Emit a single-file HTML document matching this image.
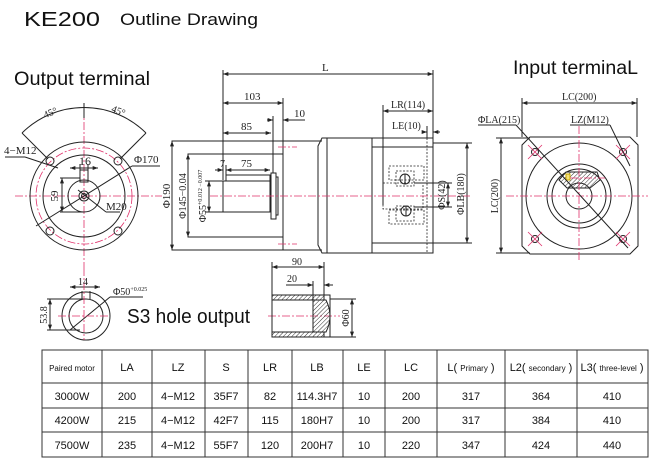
<!DOCTYPE html>
<html><head><meta charset="utf-8"><style>
html,body{margin:0;padding:0;background:#fff;}
svg{display:block;}
.t{font-family:"Liberation Serif",serif;font-size:11px;fill:#222;}
.h{font-family:"Liberation Sans",sans-serif;fill:#111;}
.tb{font-family:"Liberation Sans",sans-serif;font-size:11px;fill:#111;}
</style></head><body>
<svg width="650" height="468" viewBox="0 0 650 468" xmlns="http://www.w3.org/2000/svg">
<defs>
<marker id="a" viewBox="0 0 8 6" refX="8" refY="3" markerWidth="6" markerHeight="4" orient="auto-start-reverse"><path d="M0,0L8,3L0,6z" fill="#222"/></marker>
<pattern id="hat" width="3" height="3" patternUnits="userSpaceOnUse" patternTransform="rotate(45)"><line x1="0" y1="0" x2="0" y2="3" stroke="#333" stroke-width="1"/></pattern>
</defs>
<text x="24" y="26" class="h" font-size="20" fill="#222" textLength="76" lengthAdjust="spacingAndGlyphs">KE200</text>
<text x="120" y="25" class="h" font-size="17" textLength="138" lengthAdjust="spacingAndGlyphs">Outline Drawing</text>
<text x="14" y="85" class="h" font-size="19" textLength="136" lengthAdjust="spacingAndGlyphs">Output terminal</text>
<text x="513" y="74" class="h" font-size="19" textLength="125" lengthAdjust="spacingAndGlyphs">Input terminaL</text>

<g fill="none" stroke="#222" stroke-width="1">
<g stroke="#e0306a" stroke-dasharray="8,2,2,2" stroke-width="0.8">
<line x1="15" y1="196" x2="162" y2="196"/>
<line x1="84" y1="108" x2="84" y2="268"/>
<circle cx="84" cy="196" r="48"/>
</g>
<circle cx="84" cy="196" r="54"/>
<circle cx="84" cy="196" r="41"/>
<circle cx="84" cy="196" r="16"/>
<circle cx="84" cy="196" r="5"/>
<circle cx="84" cy="196" r="2.5"/>
<g>
<circle cx="50" cy="161" r="4"/><circle cx="118" cy="161" r="4"/>
<circle cx="50" cy="231" r="4"/><circle cx="118" cy="231" r="4"/>
</g>
<path d="M22,133 A88,88 0 0 1 146,133"/>
<line x1="22" y1="133" x2="48" y2="159"/><line x1="146" y1="133" x2="120" y2="159"/>
<line x1="84" y1="103" x2="84" y2="118"/>
<rect x="80" y="170" width="8" height="12"/>
<line x1="70" y1="168" x2="98" y2="168" marker-start="url(#a)" marker-end="url(#a)"/>
<line x1="80" y1="164" x2="80" y2="172"/><line x1="88" y1="164" x2="88" y2="172"/>
<line x1="60" y1="178" x2="80" y2="178"/><line x1="60" y1="212" x2="84" y2="212"/>
<line x1="62" y1="178" x2="62" y2="212" marker-start="url(#a)" marker-end="url(#a)"/>
<line x1="5" y1="157" x2="25" y2="157"/><line x1="25" y1="157" x2="58" y2="168"/>
<line x1="36" y1="226" x2="132" y2="166"/><line x1="132" y1="166" x2="160" y2="166"/>
<line x1="78" y1="190" x2="106" y2="212"/><line x1="106" y1="212" x2="120" y2="212"/>

<rect x="172" y="141" width="111" height="109"/>
<rect x="188" y="154" width="95" height="83"/>
<rect x="223" y="181" width="47" height="31"/>
<rect x="226" y="175" width="44" height="6"/>
<rect x="271" y="173" width="5" height="46"/>
<rect x="276" y="177" width="2" height="38"/>
<path d="M283,141 H322 M283,250 H322"/>
<path d="M322,138 L327,138 L327,253 L322,253 L318,245 L318,146 Z"/>
<rect x="327" y="138" width="106" height="115"/>
<line x1="372" y1="138" x2="372" y2="253"/>
<line x1="372" y1="147" x2="433" y2="147"/><line x1="372" y1="243" x2="433" y2="243"/>
<g stroke-dasharray="2,1.5" stroke-width="0.8">
<line x1="427" y1="138" x2="427" y2="253"/>
<rect x="389" y="166" width="35" height="14"/><rect x="396" y="171" width="18" height="15"/>
<rect x="389" y="210" width="35" height="14"/><rect x="396" y="206" width="18" height="15"/>
<rect x="383" y="183" width="40" height="26"/>
</g>
<circle cx="405" cy="179" r="5"/><circle cx="406" cy="211" r="5"/>
<line x1="405" y1="174" x2="405" y2="184"/><line x1="406" y1="206" x2="406" y2="216"/>
<line x1="223" y1="70" x2="223" y2="180"/><line x1="433" y1="70" x2="433" y2="138"/>
<line x1="223" y1="74" x2="433" y2="74" marker-start="url(#a)" marker-end="url(#a)"/>
<line x1="283" y1="98" x2="283" y2="141"/>
<line x1="223" y1="103" x2="283" y2="103" marker-start="url(#a)" marker-end="url(#a)"/>
<line x1="273" y1="116" x2="273" y2="173"/>
<line x1="267" y1="120" x2="273" y2="120" marker-end="url(#a)"/><line x1="305" y1="120" x2="283" y2="120" marker-end="url(#a)"/>
<line x1="223" y1="133" x2="271" y2="133" marker-start="url(#a)" marker-end="url(#a)"/>
<line x1="215" y1="170" x2="223" y2="170" marker-end="url(#a)"/>
<line x1="226" y1="170" x2="270" y2="170" marker-start="url(#a)" marker-end="url(#a)"/>
<line x1="226" y1="165" x2="226" y2="175"/>
<line x1="172" y1="141" x2="172" y2="250" marker-start="url(#a)" marker-end="url(#a)"/>
<line x1="188" y1="154" x2="188" y2="237" marker-start="url(#a)" marker-end="url(#a)"/>
<line x1="205" y1="181" x2="223" y2="181"/><line x1="205" y1="212" x2="223" y2="212"/>
<line x1="209" y1="181" x2="209" y2="212" marker-start="url(#a)" marker-end="url(#a)"/>
<line x1="383" y1="105" x2="383" y2="205"/>
<line x1="383" y1="111" x2="433" y2="111" marker-start="url(#a)" marker-end="url(#a)"/>
<line x1="422" y1="132" x2="427" y2="132" marker-end="url(#a)"/><line x1="440" y1="132" x2="433" y2="132" marker-end="url(#a)"/>
<line x1="427" y1="126" x2="427" y2="138"/>
<line x1="433" y1="143" x2="472" y2="143"/><line x1="433" y1="243" x2="472" y2="243"/>
<line x1="467" y1="143" x2="467" y2="243" marker-start="url(#a)" marker-end="url(#a)"/>
<line x1="414" y1="183" x2="452" y2="183"/><line x1="414" y1="207" x2="452" y2="207"/>
<line x1="448" y1="183" x2="448" y2="207" marker-start="url(#a)" marker-end="url(#a)"/>
<g stroke="#e0306a" stroke-dasharray="8,2,2,2" stroke-width="0.8">
<line x1="210" y1="196" x2="472" y2="196"/>
<line x1="278" y1="147" x2="297" y2="147"/><line x1="278" y1="244" x2="297" y2="244"/>
</g>

<path d="M530,137 H630 L638,145 V246 L630,254 H530 L522,246 V145 Z"/>
<circle cx="579" cy="196" r="53"/><circle cx="579" cy="196" r="32"/>
<circle cx="579" cy="196" r="27"/><circle cx="579" cy="196" r="13"/>
<g><circle cx="535" cy="152" r="3.5"/><circle cx="623" cy="152" r="3.5"/>
<circle cx="535" cy="239" r="3.5"/><circle cx="623" cy="239" r="3.5"/></g>
<path d="M559,180 L566,172 L597,172 L600,180 L590,188 L567,188 Z" fill="url(#hat)"/>
<rect x="566" y="174" width="4" height="6" fill="#f5e27a" stroke="#c9a800"/>
<g stroke="#e0306a" stroke-dasharray="8,2,2,2" stroke-width="0.8">
<line x1="506" y1="196" x2="648" y2="196"/><line x1="579" y1="126" x2="579" y2="262"/>
<line x1="570" y1="178" x2="605" y2="178"/>
</g>
<g stroke="#e0306a" stroke-width="0.8">
<path d="M528,145 l14,14 M542,145 l-14,14 M616,145 l14,14 M630,145 l-14,14 M528,232 l14,14 M542,232 l-14,14 M616,232 l14,14 M630,232 l-14,14"/>
</g>
<line x1="478" y1="125" x2="516" y2="125"/><line x1="516" y1="125" x2="628" y2="248"/>
<line x1="570" y1="125" x2="610" y2="125"/><line x1="610" y1="125" x2="630" y2="166"/>
<line x1="522" y1="98" x2="522" y2="137"/><line x1="637" y1="98" x2="637" y2="137"/>
<line x1="522" y1="103" x2="637" y2="103" marker-start="url(#a)" marker-end="url(#a)"/>
<line x1="496" y1="138" x2="530" y2="138"/><line x1="496" y1="253" x2="530" y2="253"/>
<line x1="501" y1="138" x2="501" y2="253" marker-start="url(#a)" marker-end="url(#a)"/>

<circle cx="86" cy="316" r="24"/><circle cx="86" cy="316" r="17"/>
<path d="M82,299 V291 M90,299 V291"/>
<line x1="70" y1="287" x2="100" y2="287" marker-start="url(#a)" marker-end="url(#a)"/>
<line x1="47" y1="299" x2="86" y2="299"/><line x1="47" y1="330" x2="80" y2="330"/>
<line x1="50" y1="299" x2="50" y2="330" marker-start="url(#a)" marker-end="url(#a)"/>
<line x1="70" y1="330" x2="110" y2="297"/><line x1="110" y1="297" x2="143" y2="297"/>
<g stroke="#e0306a" stroke-dasharray="8,2,2,2" stroke-width="0.8">
<line x1="58" y1="316" x2="110" y2="316"/><line x1="84" y1="268" x2="84" y2="340"/>
<line x1="268" y1="316" x2="340" y2="316"/>
</g>
<rect x="272" y="295" width="58" height="42"/>
<rect x="272" y="295" width="52" height="5" fill="url(#hat)"/>
<rect x="272" y="332" width="52" height="5" fill="url(#hat)"/>
<path d="M313,300 H326 Q334,316 326,332 H313 Z" fill="url(#hat)"/>
<line x1="272" y1="262" x2="272" y2="295"/><line x1="324" y1="262" x2="324" y2="295"/>
<line x1="272" y1="267" x2="324" y2="267" marker-start="url(#a)" marker-end="url(#a)"/>
<line x1="313" y1="281" x2="313" y2="300"/>
<line x1="286" y1="285" x2="313" y2="285" marker-end="url(#a)"/>
<line x1="333" y1="285" x2="324" y2="285" marker-end="url(#a)"/>
<line x1="330" y1="299" x2="356" y2="299"/><line x1="330" y1="337" x2="356" y2="337"/>
<line x1="352" y1="299" x2="352" y2="337" marker-start="url(#a)" marker-end="url(#a)"/>
</g>

<g class="t">
<text x="43" y="116" transform="rotate(-22 50 112)" font-size="10">45°</text>
<text x="111" y="114" transform="rotate(22 118 112)" font-size="10">45°</text>
<text x="4" y="154">4−M12</text>
<text x="134" y="163">Φ170</text>
<text x="79" y="165" font-size="12">16</text>
<text x="60" y="196" transform="rotate(-90 60 196)" text-anchor="middle" dy="-2">59</text>
<text x="106" y="210">M20</text>
<text x="322" y="71">L</text>
<text x="244" y="100">103</text>
<text x="294" y="117">10</text>
<text x="241" y="130">85</text>
<text x="220" y="167" font-size="10">7</text>
<text x="241" y="167">75</text>
<text x="170" y="196" transform="rotate(-90 170 196)" text-anchor="middle">Φ190</text>
<text x="186" y="196" transform="rotate(-90 186 196)" text-anchor="middle" font-size="10">Φ145−0.04</text>
<text x="206" y="196" transform="rotate(-90 206 196)" text-anchor="middle" font-size="10">Φ55<tspan font-size="6" dy="-4">+0.012 −0.007</tspan></text>
<text x="391" y="108" font-size="10">LR(114)</text>
<text x="392" y="129" font-size="10">LE(10)</text>
<text x="445" y="195" transform="rotate(-90 445 195)" text-anchor="middle" font-size="10">ΦS(42)</text>
<text x="464" y="194" transform="rotate(-90 464 194)" text-anchor="middle" font-size="10">ΦLB(180)</text>
<text x="562" y="100" font-size="10">LC(200)</text>
<text x="478" y="123" font-size="10">ΦLA(215)</text>
<text x="571" y="123" font-size="10">LZ(M12)</text>
<text x="498" y="196" transform="rotate(-90 498 196)" text-anchor="middle" font-size="10">LC(200)</text>
<text x="78" y="285" font-size="10">14</text>
<text x="47" y="315" transform="rotate(-90 47 315)" text-anchor="middle" font-size="10">53.8</text>
<text x="113" y="295" font-size="10">Φ50<tspan font-size="6" dy="-4">+0.025</tspan></text>
<text x="292" y="265" font-size="10">90</text>
<text x="287" y="282" font-size="10">20</text>
<text x="349" y="318" transform="rotate(-90 349 318)" text-anchor="middle" font-size="10">Φ60</text>
</g>
<text x="127" y="323" class="h" font-size="20" textLength="123" lengthAdjust="spacingAndGlyphs">S3 hole output</text>

<g stroke="#333" stroke-width="1" fill="none">
<rect x="42" y="350" width="606" height="107"/>
<path d="M42,383H648M42,408H648M42,432H648"/>
<path d="M102,350V457M152,350V457M205,350V457M248,350V457M292,350V457M343,350V457M385,350V457M437,350V457M505,350V457M577,350V457"/>
</g>
<g class="tb" text-anchor="middle">
<text x="72" y="371" font-size="8">Paired motor</text>
<text x="127" y="371">LA</text><text x="178" y="371">LZ</text><text x="226" y="371">S</text>
<text x="270" y="371">LR</text><text x="317" y="371">LB</text><text x="364" y="371">LE</text>
<text x="411" y="371">LC</text>
<text x="471" y="371">L( <tspan font-size="8">Primary</tspan>  )</text>
<text x="541" y="371">L2( <tspan font-size="8">secondary</tspan> )</text>
<text x="612" y="371">L3( <tspan font-size="8">three-level</tspan> )</text>
<text x="72" y="400">3000W</text><text x="127" y="400">200</text><text x="178" y="400">4−M12</text><text x="226" y="400">35F7</text><text x="270" y="400">82</text><text x="317" y="400">114.3H7</text><text x="364" y="400">10</text><text x="411" y="400">200</text><text x="471" y="400">317</text><text x="541" y="400">364</text><text x="612" y="400">410</text>
<text x="72" y="424">4200W</text><text x="127" y="424">215</text><text x="178" y="424">4−M12</text><text x="226" y="424">42F7</text><text x="270" y="424">115</text><text x="317" y="424">180H7</text><text x="364" y="424">10</text><text x="411" y="424">200</text><text x="471" y="424">317</text><text x="541" y="424">384</text><text x="612" y="424">410</text>
<text x="72" y="449">7500W</text><text x="127" y="449">235</text><text x="178" y="449">4−M12</text><text x="226" y="449">55F7</text><text x="270" y="449">120</text><text x="317" y="449">200H7</text><text x="364" y="449">10</text><text x="411" y="449">220</text><text x="471" y="449">347</text><text x="541" y="449">424</text><text x="612" y="449">440</text>
</g>
</svg>
</body></html>
